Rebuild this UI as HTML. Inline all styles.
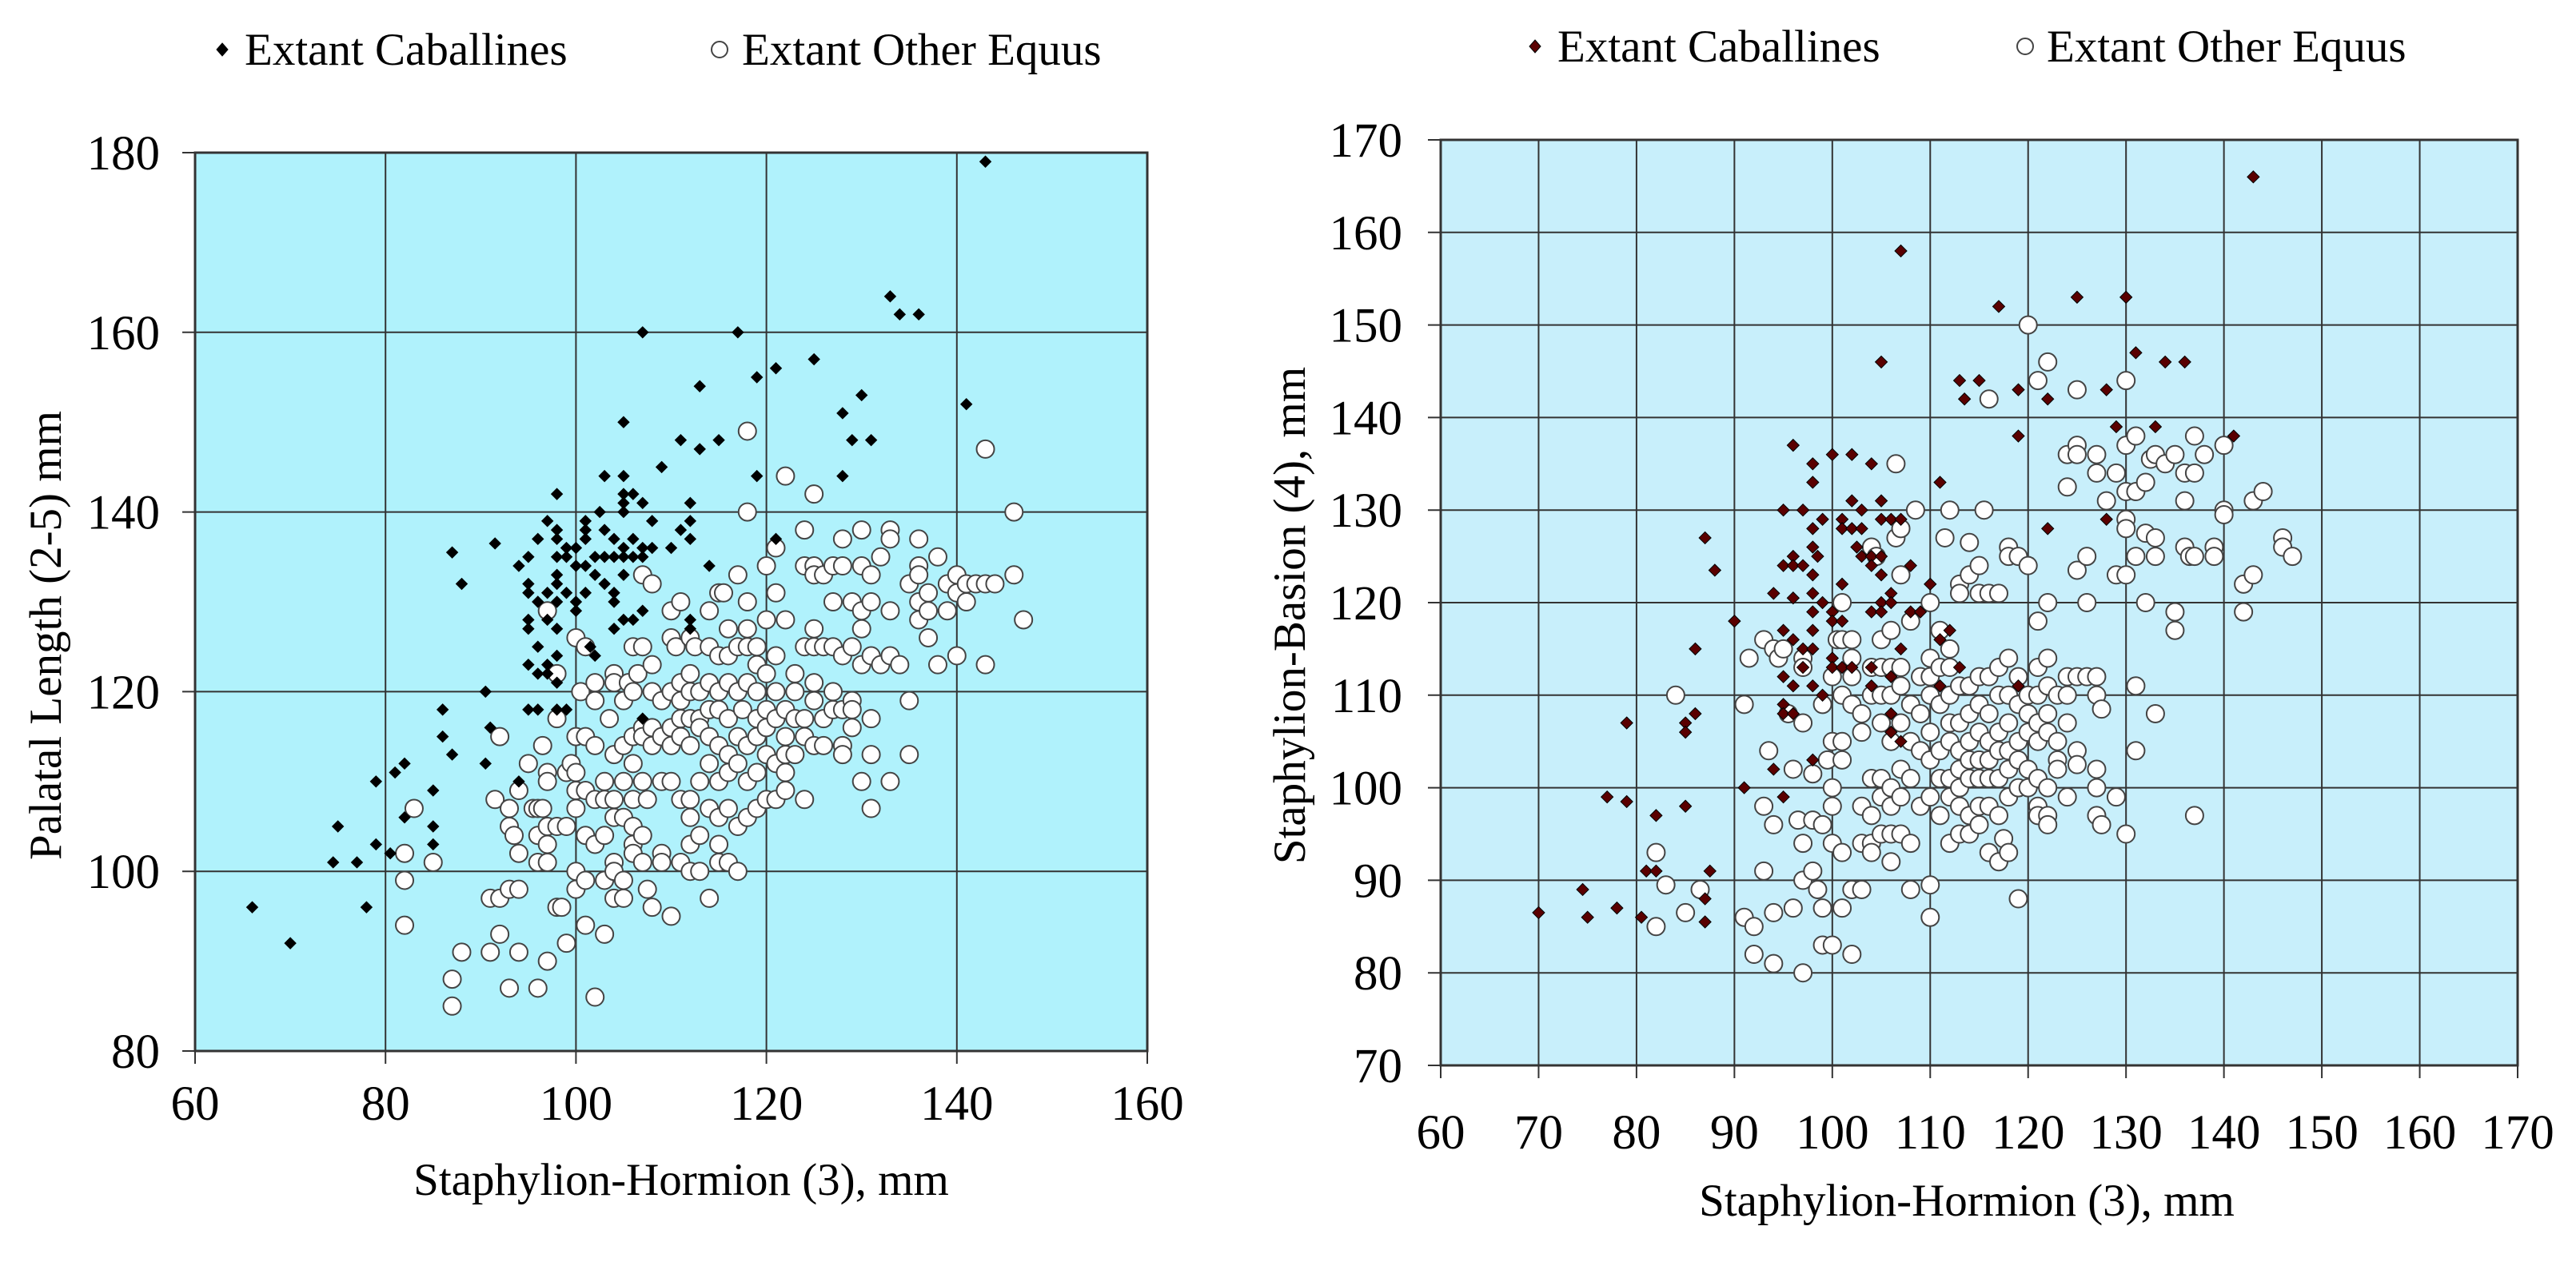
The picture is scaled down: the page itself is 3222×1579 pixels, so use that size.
<!DOCTYPE html>
<html><head><meta charset="utf-8"><style>
html,body{margin:0;padding:0;background:#fff;}
svg{display:block;font-family:"Liberation Serif",serif;}
</style></head><body>
<svg id="c" width="3222" height="1579" viewBox="0 0 3222 1579" xmlns="http://www.w3.org/2000/svg"></svg>
<script>
// ---------- LEFT CHART DATA ----------
const leftXTicks=[60,80,100,120,140,160];
const leftYTicks=[80,100,120,140,160,180];
const leftCabX=[66,70,74.5,75,77,78,79,79,80.5,81,82,82,85,85,85,86,86,87,87,88,90.5,90.5,91,91.5,94,94,95,95,95,95,95,95,95,96,96,96,96,96,97,97,97,97,97,98,98,98,98,98,98,98,98,98,98,98,99,99,99,99,100,100,100,100,101,101,101,101,101,101.5,102,102,102,102.5,103,103,103,103,104,104,104,104,104,105,105,105,105,105,105,105,105,105,106,106,106,106,107,107,107,107,107,107,108,108,109,110,111,111,112,112,112,112,112,113,113,114,115,117,119,119,121,121,125,128,128,129,130,131,133,134,136,141,143];
const leftCabY=[96,92,101,105,101,96,110,103,102,111,112,106,109,103,105,118,115,113,135.5,132,120,112,116,136.5,110,134,135,132,131,128,127,123,118,137,130,125,122,118,139,131,128,123,122,142,138,137,135,133,132,130,127,124,121,118,136,135,131,118,136,134,130,129,139,138,137,134,131,125,135,133,124,140,144,138,135,132,137,135,131,130,127,150,144,142,141,140,136,135,133,128,142,137,135,128,141,136,135,129,117,160,139,136,145,136,148,138,141,139,137,128,127,154,147,134,148,160,155,144,156,137,157,151,144,148,153,148,164,162,162,152,179];
const leftOthX=[82,82,82,83,85,87,87,88,91,91,91.5,92,92,92,93,93,93,93,93.5,94,94,94,94,95,95.5,96,96,96,96,96.5,96.5,97,97,97,97,97,97,97,98,98,98,98,98.5,99,99,99,99.5,100,100,100,100,100,100,100,100.5,101,101,101,101,101,101,102,102,102,102,102,102,103,103,103,103,103,103.5,104,104,104,104,104,104,104,104,105,105,105,105,105,105,105.5,106,106,106,106,106,106,106,106,106.5,107,107,107,107,107,107,107,107.5,107.5,108,108,108,108,108,108,109,109,109,109,109,110,110,110,110,110,110,110,110.5,111,111,111,111,111,111,111,112,112,112,112,112,112,112,112,112,112.5,113,113,113,113,113,113,114,114,114,114,114,114,114,114,115,115,115,115,115,115,115,115,115,115.5,116,116,116,116,116,116,116,116,117,117,117,117,117,117,117,117.5,118,118,118,118,118,118,118,118,118,119,119,119,119,119,119,119,120,120,120,120,120,120,120,121,121,121,121,121,121,121,122,122,122,122,122,122,122,123,123,123,123,124,124,124,124,124,124,125,125,125,125,125,125,125,125,126,126,126,126,127,127,127,127,127,128,128,128,128,128,128,129,129,129,129,129,130,130,130,130,130,130,131,131,131,131,131,131,132,132,133,133,133,133,133,134,135,135,135,136,136,136,136,136,137,137,137,138,138,139,139,140,140,140,141,141,142,143,143,143,144,146,146,147];
const leftOthY=[102,99,94,107,101,88,85,91,97,91,108,115,97,93,107,105,98,87,104,102,98,91,109,112,107,107,104,101,87,114,107,111,110,105,103,101,90,129,122,117,105,96,96,111,105,92,112,126,115,111,109,107,100,98,120,125,115,109,104,99,94,121,119,114,108,103,86,110,108,104,99,93,117,122,121,113,108,106,101,97,100,119,114,110,106,99,97,121,125,115,112,108,105,103,102,120,122,133,125,116,115,110,104,101,98,108,132,123,120,116,96,114,119,115,110,102,101,129,126,120,116,114,110,95,125,130,121,119,117,115,108,101,126,122,120,117,114,108,106,103,100,125,120,117,116,110,104,100,129,125,121,118,115,112,107,97,131,124,120,118,114,110,106,103,101,131,127,124,121,117,113,111,107,101,133,125,120,115,112,105,100,118,149,140,130,127,125,121,114,110,106,125,123,120,117,115,111,107,134,128,122,118,116,113,108,136,131,124,120,117,112,108,144,128,118,115,113,111,109,122,120,117,113,138,134,125,117,115,108,142,134,133,127,125,121,119,114,133,125,117,114,134,130,125,120,118,137,134,124,118,114,113,130,125,119,118,116,138,134,129,127,123,110,133,130,124,117,113,107,135,123,138,137,129,124,110,123,132,119,113,137,134,133,130,128,131,129,126,135,123,132,129,133,131,124,130,132,132,147,132,123,132,140,133,128];
// ---------- RIGHT CHART DATA ----------
const rightXTicks=[60,70,80,90,100,110,120,130,140,150,160,170];
const rightYTicks=[70,80,90,100,110,120,130,140,150,160,170];
const rightCabX=[70,74.5,75,77,78,79,79,80.5,81,82,82,85,85,85,86,86,87,87,87,87.5,88,90,91,94,94,95,95,95,95,95,95,95,96,96,96,96,96,96,96,97,97,97,97,98,98,98,98,98,98,98,98,98,98,98,98.5,99,99,99,100,100,100,100,100,101,101,101,101,101,102,102,102,102,102.5,103,103,103,104,104,104,104,104,104,105,105,105,105,105,105,105,106,106,106,106,106,106,107,107,107,107,108,108,109,110,111,111,111,112,113,113,113.5,115,117,119,119,119,122,122,125,128,128,129,130,131,133,134,136,141,143];
const rightCabY=[86.5,89,86,99,87,107,98.5,86,91,91,97,107,106,98,115,108,127,88,85.5,91,123.5,118,100,121,102,130,124,117,112,109,108,99,137,125,124,120.5,116,111,108,130,124,115,113,135,133,128,126,123,121,119,117,115,111,103,125,129,120,110,136,119,118,114,113,122,129,128,118,113,136,131,128,113,126,130,128,125,135,125,124,119,113,111,146,131,129,125,123,120,119,129,121,120,112,108,106,158,129,115,105,124,119,119,122,133,116,111,117,144,113,142,144,152,143,138,111,142,128,153,143,129,139,153,147,139,146,146,138,166];
const rightOthX=[82,82,83,84,85,86.5,91,91,91.5,92,92,93,93,93,93.5,94,94,94,94,94.5,95,95.5,96,96,96.5,97,97,97,97,97,97,98,98,98,98.5,99,99,99,99,99.5,100,100,100,100,100,100,100.5,101,101,101,101,101,101,101,102,102,102,102,102,102,103,103,103,103,103,104,104,104,104,104,104,104,104.5,105,105,105,105,105,105,105,106,106,106,106,106,106,106,106,106.5,106.5,107,107,107,107,107,107,107,107,108,108,108,108,108,108,108.5,109,109,109,109,110,110,110,110,110,110,110,110,110,111,111,111,111,111,111,111.5,112,112,112,112,112,112,112,112,112,113,113,113,113,113,113,113,113,113,114,114,114,114,114,114,114,114,114,115,115,115,115,115,115,115,115,115,115.5,116,116,116,116,116,116,116,116,116,117,117,117,117,117,117,117,117,117.5,118,118,118,118,118,118,118,118,118,119,119,119,119,119,119,119,120,120,120,120,120,120,120,121,121,121,121,121,121,121,121,121,122,122,122,122,122,122,122,122,122,123,123,123,123,124,124,124,124,124,124,125,125,125,125,125,125,125,126,126,126,127,127,127,127,127,127,127,127.5,127.5,128,129,129,129,130,130,130,130,130,130,130,131,131,131,131,131,132,132,132,132.5,133,133,133,133,134,135,135,135,136,136,136,136.5,137,137,137,137,138,139,139,140,140,140,142,142,143,143,144,146,146,147];
const rightOthY=[93,85,89.5,110,86.5,89,109,86,114,85,82,116,98,91,104,115,96,86.5,81,114,115,108,102,87,96.5,114,113,107,94,90,80,101.5,96.5,91,89,109,96,87,83,103,112,105,100,98,94,83,116,120,116,110,105,103,93,87,116,114,112,109,89,82,108,106,98,94,89,126,113,110,101,97,94,93,125,116,113,110,107,101,99,95,117,113,110,105,100,98,95,92,135,127,128,123,113,111,107,102,99,95,118,109,105,101,94,89,130,112,108,104,98,120,114,112,110,106,103,99,89.5,86,117,113,109,104,101,97,127,130,115,113,110,107,105,101,99,94,122,121,111,107,104,102,100,98,95,126.5,123,111,108,105,103,101,97,95,124,121,112,109,106,103,101,98,96,130,142,121,112,108,105,103,101,98,93,121,113,110,106,104,101,97,92,94.5,126,125,114,110,107,104,102,99,93,125,112,109,105,103,100,88,150,124,110,108,106,102,100,144,118,113,110,107,105,101,98,97,146,120,114,111,108,106,100,97,96,110,105,103,102,136,132.5,112,110,107,99,143,137,136,123.5,112,104,102.5,125,120,112,136,134,112,110,102,100,97,108.5,96,131,134,123,99,144,137,132,129,128,123,95,138,132,125,111,104,133,127.5,120,135.5,136,127,125,108,135,136,119,117,134,131,126,125,138,134,125,97,136,126,125,137,130,129.5,122,119,131,123,132,127,126,125];

const NS='http://www.w3.org/2000/svg';
const svg=document.getElementById('c');
function mk(tag,attrs,parent){const e=document.createElementNS(NS,tag);for(const k in attrs)e.setAttribute(k,attrs[k]);(parent||svg).appendChild(e);return e;}

function drawChart(cfg){
  const g=mk('g',{});
  
  
  const sx=v=>cfg.x0+(v-cfg.xmin)/(cfg.xmax-cfg.xmin)*(cfg.x1-cfg.x0);
  const sy=v=>cfg.y1-(v-cfg.ymin)/(cfg.ymax-cfg.ymin)*(cfg.y1-cfg.y0);
  const bg=mk('rect',{x:cfg.x0,y:cfg.y0,width:cfg.x1-cfg.x0,height:cfg.y1-cfg.y0,fill:cfg.bg},g);
  
  
  cfg.xticks.forEach(t=>{
    const l=mk('line',{x1:sx(t),x2:sx(t),y1:cfg.y0,y2:cfg.y1+16,stroke:'#333',"stroke-width":2},g);
    
    
    const tx=mk('text',{x:sx(t),y:cfg.xLabY,"font-size":61,"text-anchor":"middle",fill:'#000'},g);
    
    
    tx.textContent=t;
  });
  cfg.yticks.forEach(t=>{
    const l=mk('line',{x1:cfg.x0-16,x2:cfg.x1,y1:sy(t),y2:sy(t),stroke:'#333',"stroke-width":2},g);
    
    
    const tx=mk('text',{x:cfg.yLabX,y:sy(t)+21,"font-size":61,"text-anchor":"end",fill:'#000'},g);
    
    
    tx.textContent=t;
  });
  const fr=mk('rect',{x:cfg.x0,y:cfg.y0,width:cfg.x1-cfg.x0,height:cfg.y1-cfg.y0,fill:'none',stroke:'#333',"stroke-width":3},g);
  
  
  cfg.othX.forEach((v,i)=>{
    const c=mk('circle',{cx:sx(v),cy:sy(cfg.othY[i]),r:11,fill:'#fff',stroke:'#444',"stroke-width":2},g);
    
    
  });
  cfg.cabX.forEach((v,i)=>{
    const x=sx(v),y=sy(cfg.cabY[i]),s=cfg.ds;
    const p=mk('polygon',{points:`${x},${y-s} ${x+s},${y} ${x},${y+s} ${x-s},${y}`,fill:cfg.dfill,stroke:'#000',"stroke-width":1},g);
    
    
  });
  const xt=mk('text',{x:cfg.xTitleX,y:cfg.xTitleY,"font-size":57,"text-anchor":"middle",fill:'#000'},g);
  
  
  xt.textContent=cfg.xTitle;
  const yt=mk('text',{x:0,y:0,"font-size":57,"text-anchor":"middle",fill:'#000',transform:`translate(${cfg.yTitleX},${cfg.yTitleY}) rotate(-90)`},g);
  
  
  yt.textContent=cfg.yTitle;
  const lg=mk('g',{},g);
  
  
  const ld=cfg.leg;
  const d=mk('polygon',{points:`${ld.dx},${ld.y-8} ${ld.dx+7},${ld.y} ${ld.dx},${ld.y+8} ${ld.dx-7},${ld.y}`,fill:cfg.dfill,stroke:'#000',"stroke-width":1},lg);
  
  
  const t1=mk('text',{x:ld.t1x,y:ld.y+19,"font-size":57,fill:'#000'},lg);
  
  
  t1.textContent='Extant Caballines';
  const c=mk('circle',{cx:ld.cx,cy:ld.y,r:10,fill:'#fff',stroke:'#444',"stroke-width":2},lg);
  
  
  const t2=mk('text',{x:ld.t2x,y:ld.y+19,"font-size":57,fill:'#000'},lg);
  
  
  t2.textContent='Extant Other Equus';
}

drawChart({name:'left-chart',x0:244,x1:1435,y0:191,y1:1315,xmin:60,xmax:160,ymin:80,ymax:180,
  xticks:leftXTicks,yticks:leftYTicks,bg:'#b0f2fc',cabX:leftCabX,cabY:leftCabY,othX:leftOthX,othY:leftOthY,
  ds:7,dfill:'#000',xLabY:1401,yLabX:200,xTitle:'Staphylion-Hormion (3), mm',xTitleX:852,xTitleY:1495,
  yTitle:'Palatal Length (2-5) mm',yTitleX:76,yTitleY:795,
  leg:{dx:278,y:62,t1x:306,cx:900,t2x:928}});
drawChart({name:'right-chart',x0:1802,x1:3149,y0:175,y1:1333,xmin:60,xmax:170,ymin:70,ymax:170,
  xticks:rightXTicks,yticks:rightYTicks,bg:'#c8effb',cabX:rightCabX,cabY:rightCabY,othX:rightOthX,othY:rightOthY,
  ds:7.5,dfill:'#5a0000',xLabY:1437,yLabX:1754,xTitle:'Staphylion-Hormion (3), mm',xTitleX:2460,xTitleY:1521,
  yTitle:'Staphylion-Basion (4), mm',yTitleX:1632,yTitleY:770,
  leg:{dx:1920,y:58,t1x:1948,cx:2533,t2x:2560}});
</script>
</body></html>
